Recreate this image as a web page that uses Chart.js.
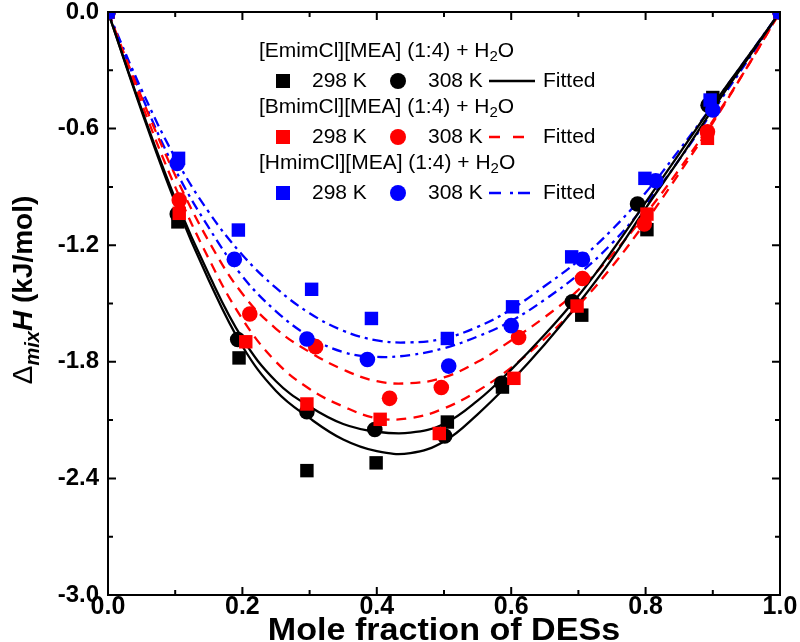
<!DOCTYPE html>
<html>
<head>
<meta charset="utf-8">
<script src="https://cdn.jsdelivr.net/npm/chart.js@4.4.1/dist/chart.umd.min.js"></script>
<style>
  html, body { margin: 0; padding: 0; background: #fff; }
  #wrap { width: 800px; height: 642px; }
</style>
</head>
<body>
<div id="wrap"><canvas id="myChart" width="800" height="642"></canvas></div>
<script>
// Sample positions for the fitted curves (mole fraction of DESs)
const fitX = [0, 0.05, 0.1, 0.15, 0.2, 0.25, 0.3, 0.35, 0.4, 0.45, 0.5, 0.55, 0.6, 0.65, 0.7, 0.75, 0.8, 0.85, 0.9, 0.95, 1];

// Fitted curves (kJ/mol)
const emim298Fit = [0, -0.51, -0.98, -1.38, -1.72, -1.95, -2.09, -2.20, -2.26, -2.27, -2.21, -2.07, -1.90, -1.71, -1.50, -1.27, -1.01, -0.76, -0.50, -0.25, 0];
const emim308Fit = [0, -0.50, -0.96, -1.35, -1.68, -1.90, -2.03, -2.12, -2.16, -2.165, -2.12, -2.00, -1.84, -1.66, -1.46, -1.23, -0.98, -0.73, -0.48, -0.24, 0];
const bmim298Fit = [0, -0.47, -0.90, -1.27, -1.58, -1.80, -1.94, -2.03, -2.09, -2.09, -2.04, -1.95, -1.83, -1.68, -1.51, -1.31, -1.08, -0.83, -0.57, -0.29, 0];
const bmim308Fit = [0, -0.44, -0.84, -1.18, -1.45, -1.63, -1.75, -1.84, -1.90, -1.91, -1.88, -1.80, -1.69, -1.57, -1.43, -1.25, -1.04, -0.81, -0.56, -0.29, 0];
const hmim298Fit = [0, -0.40, -0.75, -1.03, -1.25, -1.42, -1.55, -1.64, -1.69, -1.70, -1.68, -1.62, -1.53, -1.41, -1.28, -1.12, -0.93, -0.71, -0.48, -0.24, 0];
const hmim308Fit = [0, -0.43, -0.81, -1.11, -1.36, -1.54, -1.67, -1.75, -1.775, -1.765, -1.73, -1.67, -1.59, -1.48, -1.35, -1.19, -0.99, -0.76, -0.51, -0.26, 0];

// Measured points
const emim298X = [0, 0.104, 0.195, 0.296, 0.399, 0.505, 0.587, 0.705, 0.802, 0.900, 1];
const emim298Y = [0, -1.08, -1.78, -2.36, -2.32, -2.11, -1.93, -1.56, -1.12, -0.44, 0];
const emim308X = [0, 0.103, 0.193, 0.296, 0.397, 0.501, 0.586, 0.691, 0.788, 0.893, 1];
const emim308Y = [0, -1.04, -1.685, -2.057, -2.148, -2.182, -1.91, -1.491, -0.988, -0.48, 0];
const bmim298X = [0, 0.106, 0.205, 0.296, 0.405, 0.493, 0.604, 0.698, 0.802, 0.892, 1];
const bmim298Y = [0, -1.036, -1.697, -2.017, -2.096, -2.169, -1.885, -1.513, -1.04, -0.65, 0];
const bmim308X = [0, 0.106, 0.211, 0.309, 0.419, 0.496, 0.611, 0.706, 0.798, 0.892, 1];
const bmim308Y = [0, -0.968, -1.554, -1.722, -1.988, -1.932, -1.675, -1.371, -1.091, -0.616, 0];
const hmim298X = [0, 0.105, 0.194, 0.303, 0.392, 0.505, 0.602, 0.690, 0.799, 0.896, 1];
const hmim298Y = [0, -0.753, -1.122, -1.427, -1.577, -1.680, -1.517, -1.26, -0.856, -0.453, 0];
const hmim308X = [0, 0.103, 0.188, 0.296, 0.386, 0.507, 0.600, 0.706, 0.815, 0.900, 1];
const hmim308Y = [0, -0.779, -1.273, -1.683, -1.788, -1.822, -1.614, -1.273, -0.868, -0.504, 0];

// Axis ticks
const xMajor = [0, 0.2, 0.4, 0.6, 0.8, 1.0];
const xMinor = [0.1, 0.3, 0.5, 0.7, 0.9];
const yMajor = [0, -0.6, -1.2, -1.8, -2.4, -3.0];
const yMinor = [-0.3, -0.9, -1.5, -2.1, -2.7];

const BLACK = '#000000';
const RED = '#ff0000';
const BLUE = '#0000ff';
const FONT = "'Liberation Sans', Arial, sans-serif";
const DASH = [10, 7];
const DASHDOT = [10, 5, 3, 5];

function pts(xs, ys) {
  return xs.map((x, i) => ({ x: x, y: ys[i] }));
}

function fitLine(ys, color, dash) {
  return {
    type: 'line',
    data: pts(fitX, ys),
    borderColor: color,
    borderWidth: 2.3,
    borderDash: dash,
    pointRadius: 0,
    tension: 0.4,
    fill: false,
    order: 10
  };
}

function markers(xs, ys, color, style, order) {
  return {
    type: 'scatter',
    data: pts(xs, ys),
    pointStyle: style,
    pointRadius: style === 'rect' ? 9.5 : 7.8,
    backgroundColor: color,
    borderColor: color,
    borderWidth: 0,
    showLine: false,
    order: order
  };
}

const datasets = [
  fitLine(emim298Fit, BLACK, []),
  fitLine(emim308Fit, BLACK, []),
  fitLine(bmim298Fit, RED, DASH),
  fitLine(bmim308Fit, RED, DASH),
  fitLine(hmim298Fit, BLUE, DASHDOT),
  fitLine(hmim308Fit, BLUE, DASHDOT),
  markers(emim298X, emim298Y, BLACK, 'rect', 6),
  markers(emim308X, emim308Y, BLACK, 'circle', 5),
  markers(bmim298X, bmim298Y, RED, 'rect', 4),
  markers(bmim308X, bmim308Y, RED, 'circle', 3),
  markers(hmim298X, hmim298Y, BLUE, 'rect', 2),
  markers(hmim308X, hmim308Y, BLUE, 'circle', 1)
];

// Frame, inward ticks, axis titles and the legend
const decorPlugin = {
  id: 'decor',
  afterDraw(chart) {
    const ctx = chart.ctx;
    const a = chart.chartArea;
    const xs = chart.scales.x, ys = chart.scales.y;
    ctx.save();
    ctx.strokeStyle = BLACK;
    ctx.lineWidth = 2;
    ctx.setLineDash([]);
    ctx.strokeRect(a.left, a.top, a.right - a.left, a.bottom - a.top);

    ctx.beginPath();
    xMajor.concat(xMinor).forEach(v => {
      const len = xMajor.includes(v) ? 8 : 5;
      const px = xs.getPixelForValue(v);
      ctx.moveTo(px, a.bottom); ctx.lineTo(px, a.bottom - len);
      ctx.moveTo(px, a.top); ctx.lineTo(px, a.top + len);
    });
    yMajor.concat(yMinor).forEach(v => {
      const len = yMajor.includes(v) ? 8 : 5;
      const py = ys.getPixelForValue(v);
      ctx.moveTo(a.left, py); ctx.lineTo(a.left + len, py);
      ctx.moveTo(a.right, py); ctx.lineTo(a.right - len, py);
    });
    ctx.stroke();

    // x title, slightly widened like the original
    ctx.fillStyle = BLACK;
    ctx.font = 'bold 31px ' + FONT;
    ctx.textAlign = 'center';
    ctx.textBaseline = 'alphabetic';
    ctx.save();
    ctx.translate((a.left + a.right) / 2, 640);
    ctx.scale(1.1, 1);
    ctx.fillText('Mole fraction of DESs', 0, 0);
    ctx.restore();

    // y title: Δ_mix H (kJ/mol)
    ctx.save();
    ctx.translate(32, 290);
    ctx.rotate(-Math.PI / 2);
    ctx.textAlign = 'left';
    const parts = [
      { t: '\u0394', f: '28px ' + FONT, dy: 0 },
      { t: 'mix', f: 'italic bold 20px ' + FONT, dy: 7 },
      { t: 'H', f: 'italic bold 28px ' + FONT, dy: 0 },
      { t: ' (kJ/mol)', f: 'bold 28px ' + FONT, dy: 0 }
    ];
    let total = 0;
    parts.forEach(p => { ctx.font = p.f; p.w = ctx.measureText(p.t).width; total += p.w; });
    let cx = -total / 2;
    parts.forEach(p => { ctx.font = p.f; ctx.fillText(p.t, cx, p.dy); cx += p.w; });
    ctx.restore();

    // legend
    const groups = [
      { name: 'Emim', color: BLACK, dash: [], y: 51 },
      { name: 'Bmim', color: RED, dash: [11, 13], y: 107 },
      { name: 'Hmim', color: BLUE, dash: [12, 9, 3, 5], y: 163 }
    ];
    ctx.textBaseline = 'middle';
    ctx.textAlign = 'left';
    groups.forEach(g => {
      let x = 259;
      const head = '[' + g.name + 'Cl][MEA] (1:4) + H';
      ctx.font = '21px ' + FONT;
      ctx.fillStyle = BLACK;
      ctx.fillText(head, x, g.y);
      x += ctx.measureText(head).width;
      ctx.font = '15px ' + FONT;
      ctx.fillText('2', x, g.y + 6);
      x += ctx.measureText('2').width;
      ctx.font = '21px ' + FONT;
      ctx.fillText('O', x, g.y);

      const ry = g.y + 30;
      ctx.fillStyle = g.color;
      ctx.fillRect(283 - 7, ry - 7, 14, 14);
      ctx.beginPath();
      ctx.arc(398, ry, 8, 0, Math.PI * 2);
      ctx.fill();
      ctx.strokeStyle = g.color;
      ctx.lineWidth = 2.5;
      ctx.setLineDash(g.dash);
      ctx.beginPath();
      ctx.moveTo(489, ry); ctx.lineTo(535, ry);
      ctx.stroke();
      ctx.setLineDash([]);
      ctx.fillStyle = BLACK;
      ctx.fillText('298 K', 312, ry);
      ctx.fillText('308 K', 428, ry);
      ctx.fillText('Fitted', 543, ry);
    });
    ctx.restore();
  }
};

const ctx = document.getElementById('myChart').getContext('2d');
const myChart = new Chart(ctx, {
  type: 'scatter',
  data: { datasets },
  options: {
    responsive: false,
    animation: false,
    layout: { padding: { top: 12, right: 20, left: 0, bottom: 0 } },
    plugins: { legend: { display: false }, tooltip: { enabled: false } },
    scales: {
      x: {
        type: 'linear', min: 0, max: 1,
        grid: { display: false, drawTicks: false },
        border: { display: false },
        ticks: {
          stepSize: 0.2, padding: -3, color: BLACK, maxRotation: 0,
          font: { family: FONT, size: 25, weight: 'bold' },
          callback: v => v.toFixed(1)
        },
        afterFit: s => { s.height = 47; s.paddingLeft = 0; s.paddingRight = 0; }
      },
      y: {
        type: 'linear', min: -3, max: 0,
        grid: { display: false, drawTicks: false },
        border: { display: false },
        ticks: {
          stepSize: 0.6, padding: 9, color: BLACK,
          font: { family: FONT, size: 24, weight: 'bold' },
          callback: v => v.toFixed(1)
        },
        afterFit: s => { s.width = 108; s.paddingTop = 0; s.paddingBottom = 0; }
      }
    }
  },
  plugins: [decorPlugin]
});
</script>
</body>
</html>
